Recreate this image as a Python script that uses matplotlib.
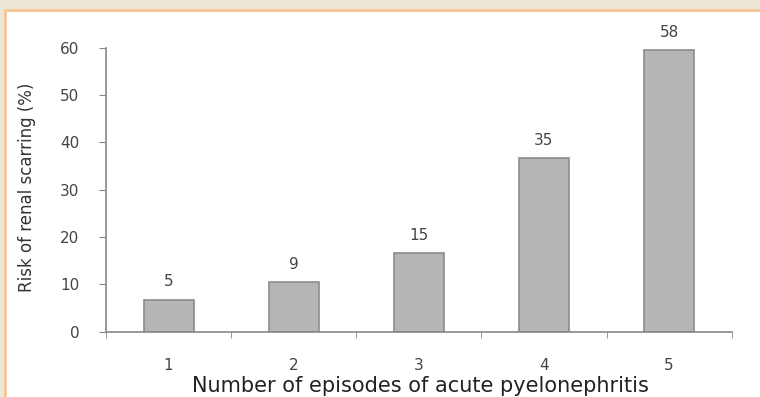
import matplotlib
matplotlib.use('agg')
import matplotlib.pyplot as plt
from matplotlib.patches import Rectangle

# данные
episodes = [1, 2, 3, 4, 5]
bar_heights = [6.8, 10.6, 16.6, 36.8, 59.5]   # высота столбиков по оси
bar_labels = ['5', '9', '15', '35', '58']     # подписи над столбиками
y_ticks = [0, 10, 20, 30, 40, 50, 60]

plt.rcParams['font.family'] = ['DejaVu Sans']

fig = plt.figure(figsize=(7.6, 3.97), dpi=100)
fig.patch.set_facecolor('#efe7d6')

# белая панель с оранжевой рамкой (под осями)
fig.patches.append(Rectangle((5 / 760, -0.05), 1.0, 1 - 10 / 397 + 0.05,
                             transform=fig.transFigure, facecolor='white',
                             edgecolor='#f6c595', linewidth=2, zorder=-10))

ax = fig.add_axes([106 / 760, 1 - 331.7 / 397, (731.7 - 106) / 760, (331.7 - 47.7) / 397])
ax.set_facecolor('none')

ax.bar(episodes, bar_heights, width=0.4, color='#b4b5b4', edgecolor='#8a8b8a', linewidth=1.2)
for x, h, lab in zip(episodes, bar_heights, bar_labels):
    ax.text(x, h + 3.7, lab, ha='center', va='center', fontsize=11, color='#444444')

ax.set_xlim(0.5, 5.5)
ax.set_ylim(0, 60)
ax.set_yticks(y_ticks)
ax.set_xticks(episodes)
ax.set_xticks([0.5, 1.5, 2.5, 3.5, 4.5, 5.5], minor=True)
ax.tick_params(axis='x', which='major', length=0, pad=19, labelsize=11, labelcolor='#444444')
ax.tick_params(axis='x', which='minor', length=4, direction='out', color='#888888')
ax.tick_params(axis='y', length=5, direction='out', color='#888888', pad=14,
               labelsize=11, labelcolor='#444444')

for s in ['top', 'right']:
    ax.spines[s].set_visible(False)
for s in ['left', 'bottom']:
    ax.spines[s].set_color('#888888')
    ax.spines[s].set_linewidth(1.2)

ax.set_ylabel('Risk of renal scarring (%)', fontsize=12, color='#333333')
ax.yaxis.set_label_coords(-0.112, 0.508)
fig.text(420 / 760, 1 / 397, 'Number of episodes of acute pyelonephritis',
         ha='center', va='bottom', fontsize=15, color='#222222')

plt.savefig('out.png', dpi=100, facecolor=fig.get_facecolor())
